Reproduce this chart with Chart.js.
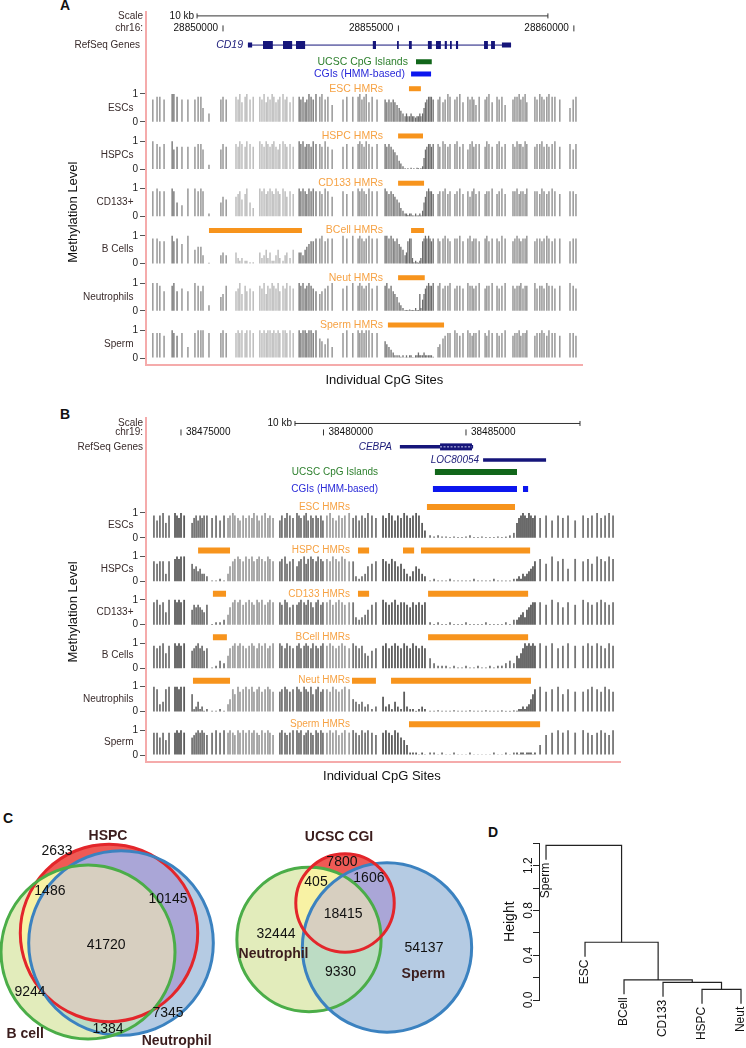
<!DOCTYPE html>
<html>
<head>
<meta charset="utf-8">
<title>HMRs at CD19 and CEBPA</title>
<script src="https://cdn.jsdelivr.net/npm/chart.js@4.4.1/dist/chart.umd.min.js"></script>
<style>
  html, body { margin: 0; padding: 0; background: #fff; }
  body { position: relative; width: 746px; height: 1048px; overflow: hidden;
         font-family: "Liberation Sans", Arial, Helvetica, sans-serif; }
  canvas { position: absolute; }
  .panel { position: absolute; font-weight: bold; font-size: 14px; line-height: 14px; color: #111; }
</style>
</head>
<body>
<div class="panel" style="left:60px;top:-2px">A</div>
<div class="panel" style="left:60px;top:407px">B</div>
<div class="panel" style="left:3px;top:811px">C</div>
<div class="panel" style="left:488px;top:825px">D</div>
<canvas id="panelA" width="746" height="400" style="left:0;top:0"></canvas>
<canvas id="panelB" width="746" height="400" style="left:0;top:400px"></canvas>
<canvas id="vennLeft" width="240" height="248" style="left:0;top:800px"></canvas>
<canvas id="vennRight" width="250" height="248" style="left:230px;top:800px"></canvas>
<canvas id="dendro" width="266" height="238" style="left:480px;top:810px"></canvas>
<script>
// ---------------- data ----------------
const cellTypes = ['ESCs', 'HSPCs', 'CD133+', 'B Cells', 'Neutrophils', 'Sperm'];
const hmrNames = ['ESC HMRs', 'HSPC HMRs', 'CD133 HMRs', 'BCell HMRs', 'Neut HMRs', 'Sperm HMRs'];

// panel A: chr16, positions in bp from 28,850,000
const originA = 28850000;
const posTicksA = [0, 5000, 10000];
const scaleBarA = [-740, 9260];
const cd19Span = [710, 8210];
const cd19Utr = [[710, 830], [7950, 8210]];
const cd19Exons = [[1140, 1420], [1710, 1970], [2080, 2340], [4270, 4360], [4960, 5010], [5300, 5380],
  [5840, 5950], [6070, 6210], [6320, 6380], [6470, 6520], [6640, 6700], [7440, 7550], [7640, 7750]];
const cpgIslandA = [[5500, 5950]];
const cgiHmmA = [[5360, 5930]];
const hmrA = [
  [[5300, 5640]],
  [[4990, 5700]],
  [[4990, 5730]],
  [[-400, 2250], [5360, 5730]],
  [[4990, 5750]],
  [[4700, 6300]]
];
const sitesA = [
  -2000, -1880, -1800, -1680,
  -1450, -1400, -1310,
  -1170, -1000,
  -800, -710, -630, -570,
  -400,
  -60, 0, 90,
  370, 430, 480, 540, 630, 680, 770, 860,
  1050, 1110, 1170, 1230, 1280, 1340, 1400, 1450, 1510, 1570, 1620, 1710, 1770, 1820, 1910, 2000,
  2170, 2220, 2280, 2340, 2390, 2450, 2510, 2570, 2650,
  2760, 2820, 2910, 2990, 3110,
  3420, 3530, 3700,
  3850, 3900, 3960, 4020, 4080, 4160, 4250,
  4390,
  4620, 4670, 4730, 4790, 4850, 4900, 4960, 5020, 5070, 5130,
  5190, 5230, 5270, 5320, 5360, 5400, 5440, 5490, 5530, 5570, 5610, 5640,
  5690, 5730, 5770, 5810, 5860, 5900, 5940, 5990,
  6130, 6180, 6270, 6330, 6410, 6470, 6610, 6670, 6750, 6840,
  6980, 7040, 7100, 7150, 7210, 7300, 7470, 7520, 7580, 7670,
  7810, 7870, 7950, 8040, 8265, 8320, 8380, 8440, 8490, 8550,
  8610, 8660, 8890, 8950, 9030, 9090, 9150, 9230, 9290, 9380,
  9460, 9600, 9890, 9980, 10060
];
// methylation level x10 at each CpG site
const escA = [
  8, 9, 9, 8,
  10, 10, 9,
  8, 8,
  8, 9, 9, 5,
  3,
  8, 9, 8,
  9, 8, 10, 7, 9, 10, 8, 9,
  9, 8, 10, 7, 9, 8, 10, 9, 7, 8, 9, 10, 8, 9, 7, 9,
  9, 8, 9, 7, 8, 10, 9, 8, 10,
  9, 10, 8, 9, 6,
  8, 9, 9,
  9, 10, 8, 9, 10, 7, 9,
  8,
  8, 7, 8, 7, 8, 7, 6, 5, 4, 3,
  2, 3, 2, 2, 3, 2, 2, 1.5, 2, 2, 3, 2,
  3, 5, 7, 8, 9, 9, 9, 8,
  8, 9, 7, 8, 10, 9, 8, 9, 10, 7,
  9, 8, 9, 8, 6, 9, 8, 9, 10, 7,
  9, 8, 9, 6, 8, 9, 9, 10, 8, 9,
  10, 7, 9, 8, 10, 9, 8, 9, 10, 9,
  9, 8, 5, 8, 9
];
const hspcA = [
  10, 9, 8, 9,
  10, 7, 8,
  8, 8,
  8, 9, 9, 7,
  1.5,
  7, 9, 8,
  9, 8, 10, 9, 8, 10, 9, 8,
  10, 9, 8, 10, 9, 8, 9, 10, 8, 7, 9, 10, 9, 8, 9, 8,
  10, 9, 10, 8, 9, 9, 8, 10, 9,
  9, 8, 10, 8, 7,
  8, 9, 8,
  9, 10, 9, 8, 10, 9, 8,
  9,
  9, 8, 9, 8, 7, 6, 5, 3, 2, 1,
  0.3, 0, 0.3, 0, 0.5, 0, 0.3, 0, 0.5, 0.3, 0, 0.3,
  1, 4, 7, 8, 9, 9, 8, 9,
  9, 8, 10, 9, 8, 9, 9, 10, 8, 9,
  7, 9, 10, 8, 9, 9, 8, 10, 9, 8,
  9, 10, 8, 9, 9, 8, 10, 9, 9, 8,
  10, 9, 8, 9, 9, 10, 8, 9, 8, 9,
  10, 8, 9, 7, 9
];
const cd133A = [
  9, 10, 9, 9,
  10, 9, 5,
  4, 10,
  10, 9, 10, 9,
  1,
  5, 7, 6,
  7, 8, 9, 6, 8, 10, 5, 3,
  10, 9, 10, 8, 9, 10, 9, 8, 10, 9, 8, 10, 9, 7, 9, 8,
  10, 9, 10, 9, 8, 10, 9, 10, 9,
  9, 8, 10, 9, 7,
  9, 8, 9,
  10, 9, 10, 9, 8, 10, 9,
  9,
  10, 9, 8, 9, 8, 7, 6, 5, 3, 2,
  1, 1, 0.5, 1, 1, 0.3, 0.3, 1, 0.3, 0.3, 1, 0.3,
  2, 5, 7, 9, 10, 9, 9, 8,
  8, 9, 9, 10, 8, 9, 8, 9, 10, 8,
  9, 7, 9, 10, 8, 9, 8, 9, 9, 10,
  8, 9, 10, 8, 9, 9, 10, 8, 9, 9,
  8, 10, 9, 9, 8, 10, 9, 8, 9, 10,
  9, 8, 9, 9, 8
];
const bcellA = [
  9, 9, 8, 8,
  10, 8, 9,
  7, 10,
  5, 6, 6, 3,
  0.3,
  3, 4, 3,
  4, 2, 1, 2, 1, 1, 0.5, 0.5,
  4, 2, 3, 5, 2, 4, 1, 1, 3, 5, 2, 1, 3, 4, 2, 5,
  4, 4, 3, 5, 6, 7, 8, 8, 9,
  9, 10, 8, 9, 9,
  10, 9, 10,
  9, 10, 9, 8, 9, 10, 9,
  9,
  10, 10, 9, 10, 9, 8, 9, 7, 6, 5,
  3, 4, 8, 9, 9, 2, 0.5, 1, 0.5, 0.3, 1, 2,
  8, 9, 10, 9, 10, 9, 8, 9,
  9, 8, 9, 10, 9, 8, 9, 9, 10, 8,
  9, 10, 8, 9, 9, 8, 9, 10, 8, 9,
  9, 8, 10, 9, 8, 9, 10, 9, 8, 9,
  9, 10, 8, 9, 9, 8, 9, 10, 9, 8,
  9, 9, 8, 9, 9
];
const neutA = [
  10, 10, 9, 7,
  9, 10, 7,
  8, 7,
  10, 9, 7, 9,
  2,
  5, 6, 9,
  7, 8, 10, 6, 9, 7, 8, 7,
  9, 8, 10, 6, 9, 8, 10, 9, 8, 10, 7, 9, 8, 10, 9, 8,
  10, 9, 10, 8, 9, 10, 9, 8, 7,
  6, 7, 8, 9, 10,
  8, 9, 10,
  9, 10, 9, 8, 9, 10, 8,
  9,
  9, 10, 8, 9, 7, 6, 5, 3, 2, 1,
  0.3, 0.3, 0.3, 0.5, 0.3, 0.3, 0.3, 1, 0.3, 0.3, 6, 1,
  4, 6, 8, 9, 10, 9, 9, 10,
  9, 10, 8, 9, 9, 10, 8, 9, 9, 8,
  10, 9, 9, 8, 9, 10, 8, 9, 9, 10,
  9, 8, 9, 10, 9, 8, 9, 9, 10, 8,
  9, 9, 10, 8, 9, 9, 8, 10, 9, 9,
  8, 9, 10, 9, 8
];
const spermA = [
  9, 9, 9, 8,
  10, 9, 8,
  9, 4,
  9, 10, 10, 10,
  9,
  9, 10, 9,
  9, 10, 9, 10, 9, 10, 10, 9,
  10, 9, 10, 9, 10, 10, 9, 10, 9, 10, 9, 10, 10, 9, 10, 9,
  10, 9, 10, 10, 9, 10, 10, 9, 10,
  7, 6, 5, 7, 4,
  9, 10, 9,
  10, 9, 10, 9, 10, 10, 9,
  9,
  6, 5, 4, 3, 2, 1, 1, 1, 0.5, 1,
  0.3, 1, 0.3, 1, 1, 0.3, 0.3, 1, 1, 2, 1, 1,
  1, 2, 1, 1, 1, 1, 1, 0.5,
  4, 5, 7, 8, 9, 9, 10, 9, 8, 9,
  10, 9, 8, 9, 9, 10, 9, 8, 10, 9,
  9, 8, 9, 10, 8, 9, 9, 10, 8, 9,
  9, 10, 8, 9, 9, 10, 9, 8, 10, 9,
  9, 8, 9, 9, 8
];

// panel B: chr19, positions in bp from 38,475,000
const originB = 38475000;
const posTicksB = [0, 5000, 10000];
const scaleBarB = [4000, 14000];
const cebpaUtr = [[7680, 10250]];
const cebpaCds = [[9090, 10210]];
const loc80054Utr = [[10600, 12810]];
const cpgIslandB = [[8910, 11790]];
const cgiHmmB = [[8840, 11790], [12000, 12180]];
const hmrB = [
  [[8630, 11720]],
  [[600, 1720], [6210, 6600], [7790, 8180], [8420, 12250]],
  [[1120, 1580], [6210, 6600], [8670, 12180]],
  [[1120, 1610], [8670, 12180]],
  [[420, 1720], [6000, 6840], [7370, 12280]],
  [[8000, 12600]]
];
const sitesB = [
  -950, -840, -740,
  -630, -530, -420,
  -210, -140, -70, 0, 110,
  390, 460, 530, 600, 670, 740, 810, 910,
  1090, 1230, 1370, 1510,
  1650, 1720, 1820, 1890, 2000, 2070, 2180, 2280,
  2390, 2490, 2560, 2670, 2740, 2840, 2950, 3050, 3120, 3230,
  3470, 3540, 3650, 3720, 3820, 3930,
  4070, 4140, 4210, 4320, 4390, 4460, 4560, 4630, 4740, 4810, 4910, 4980,
  5120, 5230, 5330, 5440, 5540, 5650, 5750, 5900,
  6040, 6140, 6250, 6350, 6460, 6560, 6700, 6840,
  7090, 7190, 7300, 7400, 7510, 7610, 7720, 7830, 7930, 8040, 8140, 8250, 8350, 8460, 8560,
  8740, 8880, 9020, 9160, 9300, 9440, 9580, 9720, 9860, 10000, 10140,
  10280, 10420, 10560, 10700, 10840, 10980, 11120, 11260, 11400, 11540, 11680,
  11790, 11860, 11930, 12000, 12070, 12140, 12210, 12280, 12350, 12420,
  12600, 12810, 13020, 13230, 13400, 13580, 13830,
  14110, 14280, 14420, 14600, 14740, 14880, 15020, 15160
];
const escB = [
  9, 7, 9,
  10, 6, 9,
  10, 9, 8, 10, 9,
  6, 8, 9, 7, 9, 8, 9, 9,
  8, 9, 7, 9,
  8, 9, 10, 9, 8, 7, 9, 8,
  9, 8, 10, 9, 7, 9, 10, 8, 9, 8,
  7, 9, 8, 10, 9, 8,
  10, 9, 8, 9, 10, 7, 9, 8, 9, 8, 9, 7,
  9, 10, 8, 7, 9, 8, 9, 10,
  8, 9, 7, 9, 8, 10, 9, 8,
  9, 8, 10, 9, 7, 9, 8, 10, 9, 8, 9, 10, 9, 6, 3,
  1, 0.5, 1, 0.5, 0.5, 0.3, 0.5, 0.3, 0.3, 0.5, 1,
  0.3, 0.3, 0.5, 0.3, 0.3, 0.3, 0.5, 0.3, 0.5, 1, 2,
  6, 8, 9, 10, 9, 8, 10, 9, 8, 9,
  8, 9, 7, 9, 8, 9, 7,
  9, 8, 9, 10, 8, 9, 10, 9
];
const hspcB = [
  8, 7, 8,
  8, 3, 8,
  9, 10, 9, 10, 10,
  7, 5, 6, 4, 5, 3, 3, 2,
  0.3, 0.3, 1, 0.3,
  3, 6, 8, 9, 10, 9, 8, 10,
  9, 10, 8, 9, 10, 9, 8, 10, 9, 8,
  8, 9, 10, 7, 8, 9,
  6, 8, 9, 10, 7, 9, 10, 9, 8, 10, 9, 8,
  9, 8, 10, 9, 8, 10, 9, 8,
  8, 2, 1, 2, 3, 6, 7, 8,
  9, 8, 7, 9, 8, 6, 7, 5, 3, 2, 4, 6, 5, 3, 2,
  0.3, 1, 0.3, 0.3, 0.3, 1, 0.3, 0.3, 0.3, 0.3, 0.3,
  1, 0.3, 0.3, 0.3, 0.3, 1, 0.3, 0.3, 0.3, 0.3, 1,
  1, 2, 1, 3, 2, 3, 4, 5, 6, 8,
  9, 7, 10, 8, 9, 5, 9,
  8, 9, 7, 10, 9, 8, 10, 9
];
const cd133B = [
  9, 10, 8,
  9, 5, 10,
  10, 9, 10, 9, 10,
  6, 8, 7, 8, 7, 6, 5, 8,
  0.3, 1, 1, 2,
  4, 7, 9, 10, 9, 10, 8, 9,
  10, 9, 8, 10, 9, 10, 8, 9, 10, 9,
  9, 8, 10, 9, 7, 8,
  8, 9, 10, 9, 8, 10, 9, 7, 9, 10, 8, 9,
  9, 10, 8, 9, 10, 9, 8, 9,
  9, 3, 2, 3, 4, 6, 8, 9,
  10, 9, 8, 9, 10, 8, 9, 9, 8, 7, 9, 8, 9, 8, 9,
  1, 0.3, 1, 0.3, 0.3, 1, 0.3, 0.3, 0.3, 1, 0.3,
  0.3, 0.3, 0.3, 1, 0.3, 0.3, 0.3, 0.3, 1, 0.3, 2,
  2, 3, 4, 5, 3, 6, 7, 8, 9, 9,
  9, 8, 10, 9, 7, 9, 8,
  10, 9, 8, 9, 10, 9, 8, 9
];
const bcellB = [
  9, 8, 9,
  10, 6, 9,
  10, 9, 10, 9, 10,
  7, 8, 9, 10, 8, 9, 7, 8,
  0.3, 1, 3, 2,
  5, 8, 9, 10, 9, 10, 9, 8,
  9, 10, 9, 8, 10, 9, 10, 8, 9, 10,
  10, 9, 8, 10, 9, 8,
  9, 10, 8, 9, 10, 9, 8, 10, 9, 8, 9, 10,
  9, 10, 9, 8, 9, 10, 9, 8,
  10, 9, 8, 9, 6, 5, 7, 8,
  9, 10, 8, 9, 10, 9, 8, 10, 9, 8, 10, 9, 8, 9, 8,
  4, 2, 1, 1, 1, 0.3, 1, 0.3, 0.3, 1, 0.3,
  0.3, 1, 0.3, 0.3, 1, 0.3, 1, 1, 2, 3, 2,
  5, 4, 6, 8, 10, 9, 10, 9, 10, 9,
  10, 9, 10, 8, 9, 10, 9,
  9, 10, 9, 10, 9, 8, 10, 9
];
const neutB = [
  10, 9, 3,
  4, 9, 10,
  10, 10, 9, 10, 10,
  7, 1, 2, 4, 1, 2, 0.3, 1,
  0.3, 0.3, 1, 0.3,
  3, 5, 9, 7, 10, 8, 9, 10,
  9, 10, 8, 9, 10, 8, 9, 10, 9, 8,
  8, 9, 10, 9, 8, 9,
  10, 9, 8, 10, 9, 8, 10, 7, 9, 10, 8, 9,
  9, 8, 10, 9, 8, 9, 10, 9,
  5, 4, 3, 4, 2, 3, 1, 2,
  6, 2, 3, 1, 4, 2, 1, 8, 2, 1, 1, 0.3, 1, 2, 1,
  0.3, 0.3, 0.5, 0.3, 0.3, 0.3, 0.5, 0.3, 0.3, 0.3, 0.5,
  0.3, 0.3, 0.3, 0.5, 0.3, 0.3, 0.3, 0.5, 0.3, 0.3, 0.5,
  0.3, 1, 1, 2, 1, 2, 3, 5, 7, 9,
  10, 8, 9, 10, 7, 9, 8,
  8, 9, 10, 9, 8, 10, 9, 8
];
const spermB = [
  9, 9, 7,
  9, 6, 9,
  9, 10, 9, 10, 9,
  7, 8, 9, 10, 9, 10, 9, 8,
  9, 10, 9, 10,
  9, 10, 9, 8, 10, 9, 10, 9,
  10, 9, 10, 9, 8, 10, 9, 10, 9, 8,
  9, 10, 9, 8, 9, 10,
  10, 9, 10, 8, 9, 10, 9, 8, 10, 9, 10, 9,
  9, 10, 9, 10, 8, 9, 10, 9,
  10, 9, 8, 10, 9, 10, 9, 8,
  9, 10, 9, 8, 10, 9, 7, 6, 4, 1, 1, 1, 0.3, 1, 0.3,
  1, 1, 0.3, 1, 0.3, 0.3, 1, 0.3, 0.3, 0.3, 1,
  0.3, 0.3, 0.3, 0.3, 0.3, 1, 0.3, 0.3, 1, 0.3, 1,
  1, 0.3, 1, 1, 0.3, 1, 1, 1, 0.3, 1,
  4, 8, 9, 10, 9, 10, 9,
  10, 9, 8, 9, 10, 9, 8, 10
];

// panel C: HMR overlap counts per Venn region
const vennLeftSets = ['HSPC', 'Neutrophil', 'B cell'];
const vennLeftCounts = [2633, 1486, 10145, 41720, 9244, 7345, 1384];
const vennLeftMembers = [[0], [0, 2], [0, 1], [0, 1, 2], [2], [1], [1, 2]];
const vennRightSets = ['Neutrophil', 'Sperm', 'UCSC CGI'];
const vennRightCounts = [7800, 405, 1606, 18415, 32444, 9330, 54137];
const vennRightMembers = [[2], [0, 2], [1, 2], [0, 1, 2], [0], [0, 1], [1]];

// panel D: hierarchical clustering (R style merge matrix)
const leafNames = ['Sperm', 'ESC', 'BCell', 'CD133', 'HSPC', 'Neut'];
const mergePairs = [[-5, -6], [-4, 1], [-3, 2], [-2, 3], [-1, 4]];
const mergeHeights = [0.095, 0.158, 0.179, 0.516, 1.381];
const heightTicks = [0, 0.2, 0.4, 0.6, 0.8, 1.0, 1.2, 1.4];

// ---------------- style ----------------
const FF = '"Liberation Sans", Arial, Helvetica, sans-serif';
const PINK = '#f5abab', ORANGE = '#f7941d', ORANGE_T = '#f6a244';
const NAVY = '#15157a', GREEN = '#11661a', BLUE = '#0c16ee';
const DARK = '#3a2c2c', LIGHT = '#b3b3b3', DARKG = '#6c6c6c';
const VENN_FILL = {r: '#ef5a55', g: '#e2ecbb', b: '#b5cbe3', br: '#aaa6d7', gr: '#f8f2a4', bg: '#bcdcc4', bgr: '#d7cfc0'};
const VENN_LINE = {r: '#e3262b', g: '#4bad48', b: '#3b82c0'};

Chart.defaults.font.family = FF;
Chart.defaults.color = '#222';
Chart.defaults.animation = false;

const layoutA = {
  xRange: [-2195, 10232], step: 1.7, yMin: -0.25, yMax: 12.45,
  rows: {scale: 12.31, chr: 11.86, gene: 11.26, cpg: 10.66, cgi: 10.22},
  hmrGap: 0.19, hmrW: 5, featW: 5, exonW: 8, utrW: 5, barW: 1.3, featFont: 10.5,
  pad: {left: 0, right: 164, top: 12, bottom: 0}, xAxisH: 35, yAxisW: 146,
  hmrLabelX: 4560, xTitleAt: 4600, xTitleGap: 15, yTitleAt: 5.25, posLabelLeft: true,
  barColor: '#878787',
  shades: [[300, 2060, LIGHT], [-1470, -1290, DARKG], [2100, 2700, DARKG], [4580, 6050, DARKG]]
};
const layoutB = {
  xRange: [-1228, 15404], step: 1.745, yMin: -0.28, yMax: 13.54,
  rows: {scale: 13.32, chr: 12.96, gene: 12.38, gene2: 11.85, cpg: 11.37, cgi: 10.69},
  hmrGap: 0.24, hmrW: 6, featW: 6, exonW: 7, utrW: 3.5, barW: 1.8, featFont: 10,
  pad: {left: 0, right: 126, top: 18, bottom: 0}, xAxisH: 38, yAxisW: 146,
  hmrLabelX: 5930, xTitleAt: 7050, xTitleGap: 14, yTitleAt: 5.75, posLabelLeft: false,
  barColor: '#767676',
  shades: [[1600, 3300, '#a2a2a2'], [5100, 5950, '#a2a2a2'], [-300, 150, '#5c5c5c'], [7000, 8650, '#5c5c5c'], [11700, 12500, '#5c5c5c']]
};

// ---------------- helpers ----------------
function drawText(ctx, s, x, y, align, color, font) {
  ctx.font = font;
  ctx.fillStyle = color;
  ctx.textAlign = align;
  ctx.textBaseline = 'middle';
  ctx.fillText(s, x, y);
}

function shadeAt(L, x) {
  for (const [s, e, c] of L.shades) if (x >= s && x <= e) return c;
  return L.barColor;
}

// horizontal blocks drawn as thick line pieces
function segs(list, y, color, width, extra) {
  const data = [];
  list.forEach(([s, e], i) => {
    if (i) data.push({x: s, y: null});
    data.push({x: s, y: y}, {x: e, y: y});
  });
  return Object.assign({type: 'line', data: data, borderColor: color, borderWidth: width,
    pointRadius: 0, borderCapStyle: 'butt', spanGaps: false, order: 1}, extra || {});
}

function tickMarks(xs, y, r) {
  return {type: 'line', data: xs.map(x => ({x: x, y: y})), showLine: false,
    pointStyle: 'line', pointRotation: 90, pointRadius: r, pointBorderWidth: 1,
    pointBorderColor: '#333', order: 1};
}

// ---------------- panels A and B ----------------
function trackPanel(id, P) {
  const L = P.layout;
  const n = P.tracks.length;
  const zero = t => (n - 1 - t) * L.step;
  const ds = [];

  P.genes.forEach(g => {
    const gy = L.rows[g.row];
    if (g.chevrons) ds.push(segs(g.cds, gy, '#c9cbef', 1, {order: 0, borderDash: [2, 1.5]}));
    if (g.cds.length) ds.push(segs(g.cds, gy, NAVY, L.exonW, {order: 1}));
    ds.push(segs(g.utr, gy, NAVY, L.utrW, {order: 2}));
    if (g.span) ds.push(segs([g.span], gy, NAVY, 1, {order: 3}));
  });
  ds.push(segs(P.cpg, L.rows.cpg, GREEN, L.featW));
  ds.push(segs(P.cgi, L.rows.cgi, BLUE, L.featW));
  ds.push(segs([P.scaleBar], L.rows.scale, '#333', 1));
  ds.push(tickMarks(P.scaleBar, L.rows.scale, 2.5));
  ds.push(tickMarks(P.posTicks, L.rows.chr, 3));

  P.tracks.forEach((vals, t) => {
    ds.push({type: 'bar', order: 6, grouped: false, barThickness: L.barW, inflateAmount: 0,
      data: P.sites.map((x, i) => ({x: x, y: [zero(t), zero(t) + vals[i] / 10]})),
      backgroundColor: P.sites.map(x => shadeAt(L, x))});
    ds.push(segs(P.hmrs[t], zero(t) + 1 + L.hmrGap, ORANGE, L.hmrW));
  });

  const tickVals = [], tickText = [];
  for (let k = 0; k < n; k++) {
    tickVals.push(k * L.step, k * L.step + 1);
    tickText.push('0', '1');
  }

  const deco = {
    id: 'deco_' + id,
    afterDraw(chart) {
      const {ctx, chartArea: a, scales: {x, y}} = chart;
      const X = v => x.getPixelForValue(v), Y = v => y.getPixelForValue(v);
      const f10 = '10px ' + FF, ff = L.featFont + 'px ' + FF;
      ctx.save();
      drawText(ctx, 'Scale', a.left - 3, Y(L.rows.scale), 'right', DARK, f10);
      drawText(ctx, P.chrom + ':', a.left - 3, Y(L.rows.chr), 'right', DARK, f10);
      drawText(ctx, 'RefSeq Genes', a.left - (L.posLabelLeft ? 6 : 3), Y(L.rows.gene), 'right', DARK, f10);
      drawText(ctx, '10 kb', X(P.scaleBar[0]) - 3, Y(L.rows.scale), 'right', '#111', f10);
      P.posTicks.forEach(v => {
        if (L.posLabelLeft) drawText(ctx, String(P.origin + v), X(v) - 5, Y(L.rows.chr), 'right', '#111', f10);
        else drawText(ctx, String(P.origin + v), X(v) + 5, Y(L.rows.chr), 'left', '#111', f10);
      });
      P.labels.forEach(l => drawText(ctx, l.text, X(l.x), Y(L.rows[l.row]), 'right', l.color,
        (l.italic ? 'italic ' : '') + ff));
      P.tracks.forEach((vals, t) => {
        drawText(ctx, P.names[t], a.left - 12.5, Y(zero(t) + 0.5), 'right', DARK, f10);
        drawText(ctx, P.hmrNames[t], X(L.hmrLabelX), Y(zero(t) + 1 + L.hmrGap), 'right', ORANGE_T, ff);
      });
      drawText(ctx, 'Individual CpG Sites', X(L.xTitleAt), a.bottom + L.xTitleGap, 'center', '#111', '13px ' + FF);
      ctx.translate(73, Y(L.yTitleAt));
      ctx.rotate(-Math.PI / 2);
      drawText(ctx, 'Methylation Level', 0, 0, 'center', '#111', '13px ' + FF);
      ctx.restore();
    }
  };

  new Chart(document.getElementById(id), {
    type: 'bar',
    data: {datasets: ds},
    options: {
      responsive: false, animation: false, events: [],
      layout: {padding: L.pad},
      plugins: {legend: {display: false}, tooltip: {enabled: false}},
      scales: {
        x: {type: 'linear', min: L.xRange[0], max: L.xRange[1], offset: false,
          ticks: {display: false},
          grid: {display: true, drawOnChartArea: false, drawTicks: false},
          border: {color: PINK, width: 2},
          afterFit: s => { s.height = L.xAxisH; }},
        y: {type: 'linear', min: L.yMin, max: L.yMax,
          afterBuildTicks: s => { s.ticks = tickVals.map(v => ({value: v})); },
          ticks: {autoSkip: false, padding: 2, color: '#222', font: {size: 10},
            callback: (v, i) => tickText[i]},
          grid: {drawOnChartArea: false, tickLength: 6, color: '#555'},
          border: {color: PINK, width: 2},
          afterFit: s => { s.width = L.yAxisW; }}
      }
    },
    plugins: [deco]
  });
}

trackPanel('panelA', {
  layout: layoutA, chrom: 'chr16', origin: originA, posTicks: posTicksA, scaleBar: scaleBarA,
  sites: sitesA, tracks: [escA, hspcA, cd133A, bcellA, neutA, spermA],
  names: cellTypes, hmrNames: hmrNames, hmrs: hmrA, cpg: cpgIslandA, cgi: cgiHmmA,
  genes: [{row: 'gene', span: cd19Span, utr: cd19Utr, cds: cd19Exons}],
  labels: [
    {text: 'CD19', x: 570, row: 'gene', color: '#20207c', italic: true},
    {text: 'UCSC CpG Islands', x: 5270, row: 'cpg', color: '#2c7f2c'},
    {text: 'CGIs (HMM-based)', x: 5185, row: 'cgi', color: '#2a2ad8'}
  ]
});

trackPanel('panelB', {
  layout: layoutB, chrom: 'chr19', origin: originB, posTicks: posTicksB, scaleBar: scaleBarB,
  sites: sitesB, tracks: [escB, hspcB, cd133B, bcellB, neutB, spermB],
  names: cellTypes, hmrNames: hmrNames, hmrs: hmrB, cpg: cpgIslandB, cgi: cgiHmmB,
  genes: [
    {row: 'gene', utr: cebpaUtr, cds: cebpaCds, chevrons: true},
    {row: 'gene2', utr: loc80054Utr, cds: []}
  ],
  labels: [
    {text: 'CEBPA', x: 7400, row: 'gene', color: '#20207c', italic: true},
    {text: 'LOC80054', x: 10460, row: 'gene2', color: '#20207c', italic: true},
    {text: 'UCSC CpG Islands', x: 6913, row: 'cpg', color: '#2c7f2c'},
    {text: 'CGIs (HMM-based)', x: 6913, row: 'cgi', color: '#2a2ad8'}
  ]
});

// ---------------- panel C: area-proportional Venn diagrams ----------------
function vennChart(id, sets, counts, members, L) {
  const sizes = sets.map((s, k) => counts.reduce((a, c, i) => a + (members[i].includes(k) ? c : 0), 0));
  const subsets = [[0], [1], [2], [0, 1], [0, 2], [1, 2], [0, 1, 2]];
  const plugin = {
    id: 'venn_' + id,
    beforeDatasetsDraw(chart) {
      const ctx = chart.ctx, els = chart.getDatasetMeta(0).data;
      subsets.forEach(sub => {
        ctx.save();
        sub.forEach(i => {
          ctx.beginPath();
          ctx.arc(els[i].x, els[i].y, els[i].options.radius, 0, 2 * Math.PI);
          ctx.clip();
        });
        ctx.fillStyle = VENN_FILL[sub.map(i => L.roles[i]).sort().join('')];
        ctx.fillRect(0, 0, chart.width, chart.height);
        ctx.restore();
      });
    },
    afterDatasetsDraw(chart) {
      const {ctx, scales: {x, y}} = chart;
      counts.forEach((c, i) => drawText(ctx, String(c), x.getPixelForValue(L.countAt[i][0]),
        y.getPixelForValue(L.countAt[i][1]), 'center', '#111', '14px ' + FF));
      sets.forEach((s, k) => drawText(ctx, s, x.getPixelForValue(L.setAt[k][0]),
        y.getPixelForValue(L.setAt[k][1]), 'center', '#3b1d1d', 'bold 14px ' + FF));
    }
  };
  // circle radius in axis units = sqrt(set size) / 10, turned into pixels by the x scale
  const radiusPx = c => {
    const d = c.raw, sx = c.chart.scales.x;
    if (!d || !sx) return 0;
    const r = sx.getPixelForValue(d.x + Math.sqrt(d.n) / 10) - sx.getPixelForValue(d.x);
    return isFinite(r) ? r : 0;
  };
  new Chart(document.getElementById(id), {
    type: 'scatter',
    data: {datasets: [{
      data: sets.map((s, k) => ({x: L.centers[k][0], y: L.centers[k][1], n: sizes[k]})),
      pointRadius: radiusPx, pointHoverRadius: radiusPx,
      pointBackgroundColor: 'rgba(0,0,0,0)',
      pointBorderColor: L.roles.map(r => VENN_LINE[r]),
      pointBorderWidth: 3, showLine: false, clip: false
    }]},
    options: {
      responsive: false, animation: false, events: [],
      layout: {padding: 0},
      plugins: {legend: {display: false}, tooltip: {enabled: false}},
      scales: {x: {type: 'linear', display: false, min: 0, max: L.range[0]},
               y: {type: 'linear', display: false, min: 0, max: L.range[1]}}
    },
    plugins: [plugin]
  });
}

vennChart('vennLeft', vennLeftSets, vennLeftCounts, vennLeftMembers, {
  range: [64, 66.13], roles: ['r', 'b', 'g'],
  centers: [[29.07, 30.67], [32.27, 28.0], [23.47, 25.6]],
  countAt: [[15.2, 52.5], [13.3, 41.9], [44.8, 39.7], [28.3, 27.5], [8.0, 14.9], [44.8, 9.3], [28.8, 5.1]],
  setAt: [[28.8, 56.5], [47.1, 1.9], [6.7, 3.7]]
});

vennChart('vennRight', vennRightSets, vennRightCounts, vennRightMembers, {
  range: [85.32, 84.64], roles: ['g', 'b', 'r'],
  centers: [[26.96, 37.03], [53.58, 34.30], [39.25, 49.49]],
  countAt: [[38.2, 63.5], [29.35, 56.7], [47.4, 58.0], [38.6, 45.7], [15.7, 38.9], [37.7, 25.9], [66.2, 34.0]],
  setAt: [[14.85, 32.1], [66.0, 25.3], [37.2, 71.8]]
});

// ---------------- panel D: dendrogram ----------------
(function () {
  const hang = 0.1 * (Math.max(...mergeHeights) - Math.min(...mergeHeights));
  const nodeX = [], leafLow = [], lines = [];
  mergePairs.forEach((pair, k) => {
    const h = mergeHeights[k];
    const ends = pair.map(c => {
      if (c < 0) { leafLow[-c - 1] = h - hang; return {x: -c, y: h - hang}; }
      return {x: nodeX[c - 1], y: mergeHeights[c - 1]};
    });
    nodeX[k] = (ends[0].x + ends[1].x) / 2;
    lines.push([ends[0], {x: ends[0].x, y: h}, {x: ends[1].x, y: h}, ends[1]]);
  });

  const labels = {
    id: 'dendroLabels',
    afterDraw(chart) {
      const {ctx, chartArea: a, scales: {x, y}} = chart;
      y.ticks.forEach(t => {
        if (Math.round(t.value * 10) % 4 !== 0) return;
        ctx.save();
        ctx.translate(a.left - 10, y.getPixelForValue(t.value));
        ctx.rotate(-Math.PI / 2);
        drawText(ctx, t.value.toFixed(1), 0, 0, 'center', '#111', '12px ' + FF);
        ctx.restore();
      });
      leafNames.forEach((nm, i) => {
        ctx.save();
        ctx.translate(x.getPixelForValue(i + 1), y.getPixelForValue(leafLow[i]) + 3);
        ctx.rotate(-Math.PI / 2);
        drawText(ctx, nm, 0, 0, 'right', '#111', '12px ' + FF);
        ctx.restore();
      });
    }
  };

  new Chart(document.getElementById('dendro'), {
    type: 'line',
    data: {datasets: lines.map(pts => ({data: pts, borderColor: '#222', borderWidth: 1.2,
      pointRadius: 0, tension: 0, clip: false}))},
    options: {
      responsive: false, animation: false, events: [],
      layout: {padding: {left: 0, right: 0, top: 33.3, bottom: 48}},
      plugins: {legend: {display: false}, tooltip: {enabled: false}},
      scales: {
        x: {type: 'linear', display: false, min: 0.82, max: 6.128},
        y: {type: 'linear', min: 0, max: 1.4, position: 'left',
          afterBuildTicks: s => { s.ticks = heightTicks.map(v => ({value: v})); },
          afterFit: s => { s.width = 59; },
          ticks: {display: false},
          grid: {drawOnChartArea: false, tickLength: 6, color: '#222'},
          border: {color: '#222', width: 1},
          title: {display: true, text: 'Height', color: '#111', font: {size: 14},
            padding: {top: 21.6, bottom: 0}}}
      }
    },
    plugins: [labels]
  });
})();
</script>
</body>
</html>
